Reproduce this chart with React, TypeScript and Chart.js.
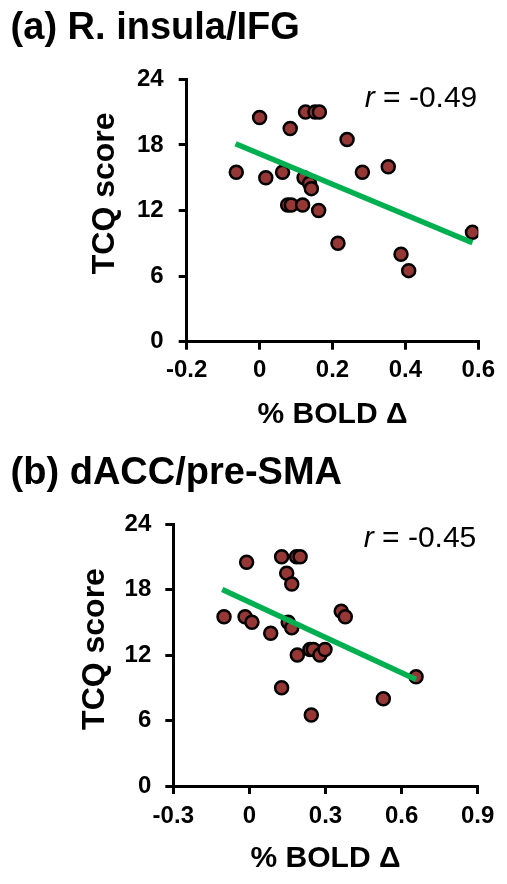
import React, { useEffect, useRef } from 'react';
import { Chart, registerables } from 'chart.js';

Chart.register(...registerables);

// ---------- data ----------
const tcqTicks = [0, 6, 12, 18, 24];

const insulaBold = [-0.064, 0.0, 0.017, 0.063, 0.084, 0.077, 0.087, 0.118, 0.126, 0.152, 0.164, 0.122, 0.137, 0.142, 0.162, 0.215, 0.24, 0.282, 0.353, 0.388, 0.409, 0.584];
const insulaTcq = [15.5, 20.5, 15, 15.5, 19.5, 12.5, 12.5, 12.5, 21, 21, 21, 15, 14.5, 14, 12, 9, 18.5, 15.5, 16, 8, 6.5, 10];
const insulaFitBold = [-0.066, 0.584];
const insulaFitTcq = [18.1, 9.05];
const insulaBoldTicks = [-0.2, 0, 0.2, 0.4, 0.6];

const daccBold = [-0.1, -0.011, -0.017, 0.01, 0.084, 0.127, 0.186, 0.2, 0.147, 0.167, 0.153, 0.167, 0.189, 0.127, 0.239, 0.252, 0.278, 0.298, 0.244, 0.362, 0.378, 0.528, 0.657];
const daccTcq = [15.5, 20.5, 15.5, 15, 14, 21, 21, 21, 19.5, 18.5, 15, 14.5, 12, 9, 12.5, 12.5, 12, 12.5, 6.5, 16, 15.5, 8, 10];
const daccFitBold = [-0.107, 0.657];
const daccFitTcq = [18.0, 9.75];
const daccBoldTicks = [-0.3, 0, 0.3, 0.6, 0.9];

const FONT = '"Liberation Sans", Arial, Helvetica, sans-serif';

type Panel = {
  title: string;
  rValue: string;
  x: number[];
  y: number[];
  fitX: number[];
  fitY: number[];
  xTicks: number[];
  layout: {
    padLeft: number;
    padRight: number;
    titleTop: number;
    titleBottom: number;
    yScaleWidth: number;
    xScaleHeight: number;
    xTickPad: number;
    xTitlePad: number;
    yTickPad: number;
    yTitleX: number;
    yTitleY: number;
    rRight: number;
    rBaseline: number;
  };
};

const panels: Panel[] = [
  {
    title: '(a) R. insula/IFG',
    rValue: ' = -0.49',
    x: insulaBold,
    y: insulaTcq,
    fitX: insulaFitBold,
    fitY: insulaFitTcq,
    xTicks: insulaBoldTicks,
    layout: {
      padLeft: 10.6, padRight: 28.7, titleTop: 5.7, titleBottom: 28,
      yScaleWidth: 176.1, xScaleHeight: 100.3, xTickPad: 6.6, xTitlePad: 9.5,
      yTickPad: 15, yTitleX: 105.6, yTitleY: 193.3, rRight: 477.3, rBaseline: 106.5,
    },
  },
  {
    title: '(b) dACC/pre-SMA',
    rValue: ' = -0.45',
    x: daccBold,
    y: daccTcq,
    fitX: daccFitBold,
    fitY: daccFitTcq,
    xTicks: daccBoldTicks,
    layout: {
      padLeft: 10.6, padRight: 29.3, titleTop: 8.7, titleBottom: 27.7,
      yScaleWidth: 162.7, xScaleHeight: 98, xTickPad: 8, xTitlePad: 7,
      yTickPad: 14, yTitleX: 95.6, yTitleY: 207, rRight: 476.3, rBaseline: 104.7,
    },
  },
];

function ScatterPanel({ panel }: { panel: Panel }) {
  const ref = useRef<HTMLCanvasElement>(null);

  useEffect(() => {
    const p = panel;
    const L = p.layout;
    const textPlugin = {
      id: 'panelText',
      afterDraw(chart: any) {
        const ctx = chart.ctx as CanvasRenderingContext2D;
        ctx.save();
        ctx.fillStyle = '#000';
        // y-axis title
        ctx.translate(L.yTitleX, L.yTitleY);
        ctx.rotate(-Math.PI / 2);
        ctx.font = `bold 32px ${FONT}`;
        ctx.textAlign = 'center';
        ctx.textBaseline = 'middle';
        ctx.fillText('TCQ score', 0, 0);
        ctx.restore();

        // correlation label
        ctx.save();
        ctx.fillStyle = '#000';
        ctx.textBaseline = 'alphabetic';
        ctx.textAlign = 'right';
        ctx.font = `30px ${FONT}`;
        ctx.fillText(p.rValue, L.rRight, L.rBaseline);
        const w = ctx.measureText(p.rValue).width;
        ctx.font = `italic 30px ${FONT}`;
        ctx.fillText('r', L.rRight - w, L.rBaseline);
        ctx.restore();
      },
    };

    const axisGrid = { drawOnChartArea: false, drawTicks: true, tickLength: 8, color: '#000', lineWidth: 3 };
    const axisBorder = { display: true, color: '#000', width: 3 };

    const chart = new Chart(ref.current as HTMLCanvasElement, {
      type: 'scatter',
      data: {
        datasets: [
          {
            label: 'fit',
            data: p.fitX.map((x, i) => ({ x, y: p.fitY[i] })),
            showLine: true,
            borderColor: '#00B050',
            backgroundColor: '#00B050',
            borderWidth: 5.5,
            borderCapStyle: 'butt',
            pointRadius: 0,
            fill: false,
          },
          {
            label: 'subjects',
            data: p.x.map((x, i) => ({ x, y: p.y[i] })),
            backgroundColor: '#953735',
            borderColor: '#000',
            borderWidth: 2.5,
            pointRadius: 6.5,
          },
        ],
      },
      options: {
        responsive: false,
        animation: false,
        events: [],
        layout: { padding: { left: L.padLeft, right: L.padRight, top: 0, bottom: 0 } },
        plugins: {
          legend: { display: false },
          tooltip: { enabled: false },
          title: {
            display: true,
            text: p.title,
            align: 'start',
            color: '#000',
            font: { family: FONT, size: 38, weight: 'bold', lineHeight: 1.2 },
            padding: { top: L.titleTop, bottom: L.titleBottom },
          },
        },
        scales: {
          x: {
            type: 'linear',
            position: 'bottom',
            min: p.xTicks[0],
            max: p.xTicks[p.xTicks.length - 1],
            afterBuildTicks: (s: any) => {
              s.ticks = p.xTicks.map((v) => ({ value: v }));
            },
            afterFit: (s: any) => {
              s.height = L.xScaleHeight;
            },
            ticks: {
              color: '#000',
              font: { family: FONT, size: 24, weight: 'bold' },
              padding: L.xTickPad,
              maxRotation: 0,
              autoSkip: false,
              callback: (v: any) => String(v),
            },
            grid: axisGrid,
            border: axisBorder,
            title: {
              display: true,
              text: '% BOLD Δ',
              color: '#000',
              font: { family: FONT, size: 30, weight: 'bold' },
              padding: { top: 0, bottom: L.xTitlePad },
            },
          },
          y: {
            type: 'linear',
            position: 'left',
            min: tcqTicks[0],
            max: tcqTicks[tcqTicks.length - 1],
            afterBuildTicks: (s: any) => {
              s.ticks = tcqTicks.map((v) => ({ value: v }));
            },
            afterFit: (s: any) => {
              s.width = L.yScaleWidth;
            },
            ticks: {
              color: '#000',
              font: { family: FONT, size: 24, weight: 'bold' },
              padding: L.yTickPad,
              autoSkip: false,
              callback: (v: any) => String(v),
            },
            grid: axisGrid,
            border: axisBorder,
          },
        },
      } as any,
      plugins: [textPlugin],
    } as any);

    return () => chart.destroy();
  }, [panel]);

  return <canvas ref={ref} width={507} height={442} style={{ display: 'block' }} />;
}

export default function App() {
  return (
    <div style={{ position: 'absolute', left: 0, top: 0, width: 507, height: 884, background: '#fff' }}>
      {panels.map((p) => (
        <ScatterPanel key={p.title} panel={p} />
      ))}
    </div>
  );
}
